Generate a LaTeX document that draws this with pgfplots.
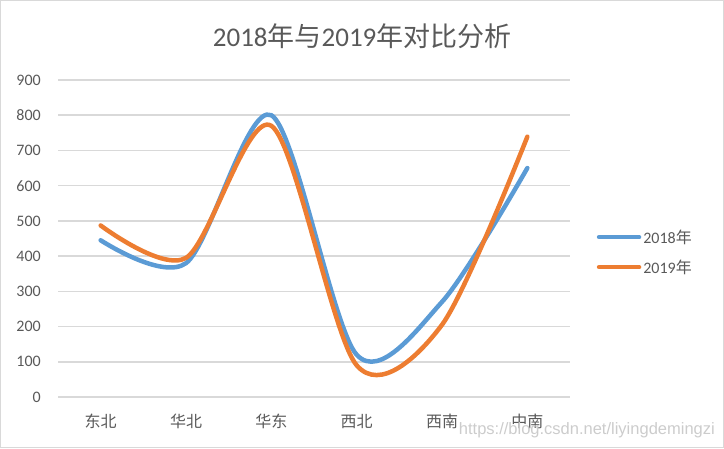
\documentclass[border=0pt]{standalone}
\usepackage{fontspec}
\setmainfont{Carlito}
\newfontfamily\cjk{Noto Sans CJK SC}
\newfontfamily\wmfont{Liberation Sans}
\usepackage{pgfplots}
\pgfplotsset{compat=1.18}
\definecolor{xlblue}{HTML}{5B9BD5}
\definecolor{xlorange}{HTML}{ED7D31}
\definecolor{xltext}{HTML}{595959}
\definecolor{xlgrid}{HTML}{D9D9D9}
\begin{document}
\begin{tikzpicture}[x=1pt,y=1pt]
\path[use as bounding box] (0,0) rectangle (724,448);
\draw[xlgrid, line width=1pt] (0.5,0.5) rectangle (723.5,447.5);
\begin{axis}[
  at={(58pt,51pt)}, anchor=south west,
  scale only axis, width=512pt, height=317pt,
  xmin=-0.5, xmax=5.5, ymin=0, ymax=900,
  xtick={0,1,2,3,4,5},
  xticklabels={{\cjk 东北},{\cjk 华北},{\cjk 华东},{\cjk 西北},{\cjk 西南},{\cjk 中南}},
  ytick={0,100,...,900},
  axis line style={draw=none},
  tick style={draw=none},
  ymajorgrids, grid style={xlgrid, line width=1.5pt},
  tick label style={font=\fontsize{16}{19}\selectfont, text=xltext},
  /pgf/number format/assume math mode=true,
  yticklabel style={inner sep=0pt, xshift=-17pt},
  xticklabel style={inner sep=0pt, yshift=-17pt},
  title={2018{\cjk 年与}2019{\cjk 年对比分析}},
  title style={at={(0.594,1.118)}, anchor=center, font=\fontsize{27}{31}\selectfont, text=xltext},
  legend style={at={(1.052,0.457)}, anchor=west, draw=none, fill=none,
    font=\fontsize{16}{19}\selectfont, text=xltext, row sep=11pt, inner sep=0pt},
  legend cell align=left,
  legend image code/.code={\draw[#1, line cap=round] (0pt,0pt) -- (40pt,0pt);},
]
\addplot[xlblue, line width=4.5pt, smooth, line cap=round] coordinates {
  (0,445) (1,380) (2,800) (3,120) (4,270) (5,650)};
\addlegendentry{2018{\cjk 年}}
\addplot[xlorange, line width=4.5pt, smooth, line cap=round] coordinates {
  (0,487) (1,395) (2,770) (3,90) (4,205) (5,739)};
\addlegendentry{2019{\cjk 年}}
\end{axis}
\node[text=black!20, font=\wmfont\fontsize{16.5}{19}\selectfont, anchor=east, inner sep=0pt] at (715,18) {https://blog.csdn.net/liyingdemingzi};
\end{tikzpicture}
\end{document}
